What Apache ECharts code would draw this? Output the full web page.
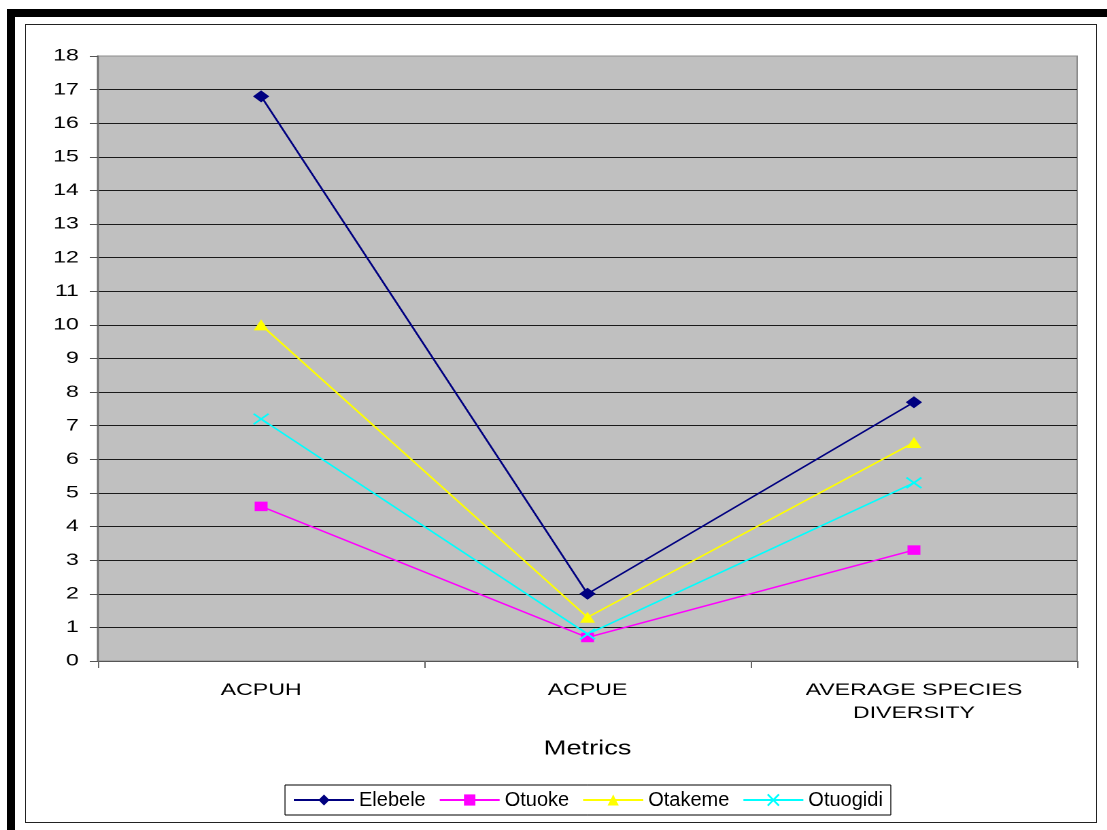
<!DOCTYPE html>
<html>
<head>
<meta charset="utf-8">
<script src="https://cdn.jsdelivr.net/npm/echarts@6/dist/echarts.min.js"></script>
<style>
  html, body { margin: 0; padding: 0; background: #fff; overflow: hidden; }
  body { width: 1107px; height: 830px; position: relative; }
  /* plot is laid out narrow and stretched sideways, like the original sheet export */
  #plot { position: absolute; left: 0; top: 0; width: 814px; height: 830px;
          transform: scaleX(1.36); transform-origin: 0 0; }
  #key { position: absolute; left: 0; top: 770px; width: 1107px; height: 60px; }
  .frame-outer { position: absolute; left: 7px; top: 9px; width: 2000px; height: 2000px;
                 border: 8px solid #000; pointer-events: none; }
  .frame-inner { position: absolute; left: 25px; top: 24px; width: 1072px; height: 799px;
                 box-sizing: border-box; border: 1px solid #222; pointer-events: none; }
</style>
</head>
<body>
<div class="frame-outer"></div>
<div class="frame-inner"></div>
<div id="plot"></div>
<div id="key"></div>
<script>
// Metric categories on the x axis
const categories = ['ACPUH', 'ACPUE', 'AVERAGE SPECIES\nDIVERSITY'];

// Values per community
const elebele  = [16.8, 2.0, 7.7];
const otuoke   = [4.6, 0.7, 3.3];
const otakeme  = [10.0, 1.3, 6.5];
const otuogidi = [7.2, 0.8, 5.3];

const seriesNames = ['Elebele', 'Otuoke', 'Otakeme', 'Otuogidi'];
const seriesData = [elebele, otuoke, otakeme, otuogidi];
const seriesColors = ['#000080', '#FF00FF', '#FFFF00', '#00FFFF'];

const crossPath = 'path://M0,0L10,10M0,10L10,0';
const symbols = ['diamond', 'rect', 'triangle', crossPath];
const plotSymbolSizes = [[12, 12], [9.5, 9.5], [11, 11], [11, 10.5]];

const FONT = "'Liberation Sans', Arial, sans-serif";

function makeSeries(i, data, symbolSize) {
  const isCross = symbols[i] === crossPath;
  return {
    name: seriesNames[i],
    type: 'line',
    data: data,
    symbol: symbols[i],
    symbolSize: symbolSize,
    showSymbol: true,
    color: seriesColors[i],
    lineStyle: { color: seriesColors[i], width: 1.5 },
    itemStyle: {
      color: seriesColors[i],
      borderColor: seriesColors[i],
      borderWidth: isCross ? 1.6 : 0
    },
    emphasis: { disabled: true },
    animation: false
  };
}

// Main plot
const plot = echarts.init(document.getElementById('plot'), null, { devicePixelRatio: 2 });
plot.setOption({
  backgroundColor: 'transparent',
  textStyle: { fontFamily: FONT },
  legend: { show: false, data: seriesNames },
  grid: {
    left: 72, right: 22, top: 56, bottom: 169,
    show: true, backgroundColor: '#C0C0C0', borderColor: '#8c8c8c', borderWidth: 1
  },
  xAxis: {
    type: 'category',
    data: categories,
    boundaryGap: true,
    name: 'Metrics',
    nameLocation: 'middle',
    nameGap: 78,
    nameTextStyle: { fontSize: 20, color: '#000', fontFamily: FONT },
    axisLine: { lineStyle: { color: '#555', width: 1 } },
    axisTick: { show: true, interval: 0, length: 7, lineStyle: { color: '#666' } },
    axisLabel: { interval: 0, fontSize: 17, lineHeight: 23, color: '#000', margin: 18, fontFamily: FONT },
    splitLine: { show: false }
  },
  yAxis: {
    type: 'value',
    min: 0, max: 18, interval: 1,
    axisLine: { show: true, lineStyle: { color: '#707070', width: 1.5 } },
    axisTick: { show: true, length: 6, lineStyle: { color: '#555' } },
    axisLabel: { fontSize: 17, color: '#000', margin: 14, fontFamily: FONT },
    splitLine: { show: true, showMaxLine: false, lineStyle: { color: '#1a1a1a', width: 1 } }
  },
  series: seriesData.map((d, i) => makeSeries(i, d, plotSymbolSizes[i]))
});

// Legend strip below the plot, kept at natural width
const key = echarts.init(document.getElementById('key'));
key.setOption({
  backgroundColor: 'transparent',
  textStyle: { fontFamily: FONT },
  grid: { left: 0, top: 0, width: 1, height: 1, show: false },
  xAxis: { type: 'category', show: false, data: categories },
  yAxis: { type: 'value', show: false },
  legend: {
    data: seriesNames,
    left: 285, top: 15,
    orient: 'horizontal',
    itemWidth: 60, itemHeight: 14, itemGap: 13,
    padding: [5, 8],
    borderColor: '#000', borderWidth: 1,
    textStyle: { fontSize: 20, color: '#000', fontFamily: FONT }
  },
  series: seriesNames.map((n, i) => makeSeries(i, [], 11))
});

// Toggling a legend entry shows/hides the matching line in the plot
key.on('legendselectchanged', function (e) {
  plot.dispatchAction({ type: 'legendToggleSelect', name: e.name });
});
</script>
</body>
</html>
